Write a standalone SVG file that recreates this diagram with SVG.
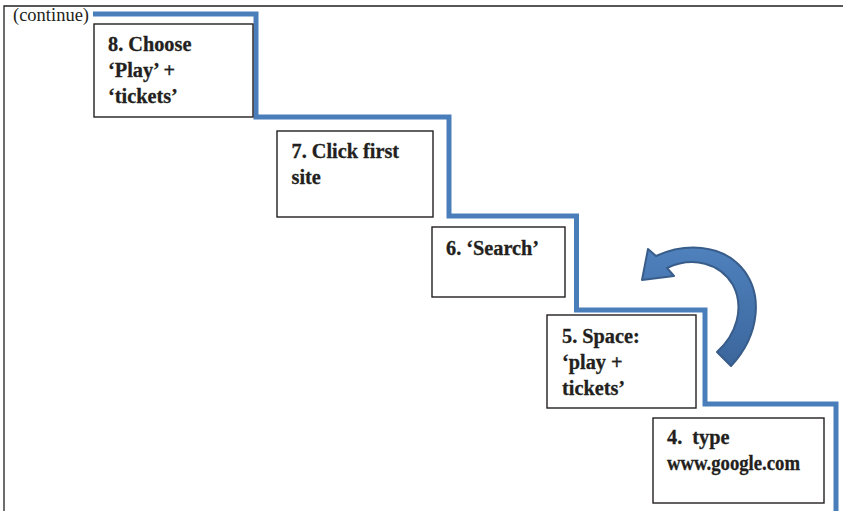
<svg xmlns="http://www.w3.org/2000/svg" width="843" height="511" viewBox="0 0 843 511">
<defs>
<style>
.box{fill:#fff;stroke:#231f20;stroke-width:1.4}
.lbl{font-family:"Liberation Serif","Times New Roman",serif;font-weight:bold;font-size:20.3px;fill:#231f20;stroke:#231f20;stroke-width:0.3;white-space:pre}
.cont{font-family:"Liberation Serif","Times New Roman",serif;font-size:18.5px;fill:#231f20}
.stair{fill:none;stroke:#4a7ebb;stroke-width:5;stroke-linejoin:miter}
.frame{fill:none;stroke:#231f20;stroke-width:1.3}
</style>
<linearGradient id="arrowFill" x1="0" y1="0" x2="0" y2="1">
<stop offset="0" stop-color="#4f81bd"/>
<stop offset="1" stop-color="#3b669c"/>
</linearGradient>
</defs>
<rect width="843" height="511" fill="#fff"/>
<g id="frame">
<path class="frame" d="M4,511 V6 H843"/>
</g>
<text class="cont" x="13" y="21">(continue)</text>
<g id="connectors">
<path class="stair" d="M93,14 H256 V117 H449 V216 H576.5 V310 H705 V404 H836 V511"/>
<path id="curved-arrow" d="M731,366 C760,335 764,293 741,267 C720,244 685,243 656,256 L648,249 L642,280 L674,276 L667,268 C693,256 720,263 733,285 C745,308 736,335 717,352 Z" fill="url(#arrowFill)" stroke="#385d8a" stroke-width="2" stroke-linejoin="round"/>
</g>
<g id="step8">
<rect class="box" x="94" y="24" width="159" height="93"/>
<text class="lbl" x="108" y="50.5">8. Choose</text>
<text class="lbl" x="108" y="77">‘Play’ +</text>
<text class="lbl" x="108" y="103">‘tickets’</text>
</g>
<g id="step7">
<rect class="box" x="277" y="131" width="156" height="86"/>
<text class="lbl" x="291.5" y="158">7. Click first</text>
<text class="lbl" x="291.5" y="184">site</text>
</g>
<g id="step6">
<rect class="box" x="432" y="227" width="133" height="70"/>
<text class="lbl" x="446" y="255">6. ‘Search’</text>
</g>
<g id="step5">
<rect class="box" x="547" y="315" width="149" height="93"/>
<text class="lbl" x="562" y="342.5">5. Space:</text>
<text class="lbl" x="562" y="368.5">‘play +</text>
<text class="lbl" x="562" y="394.5">tickets’</text>
</g>
<g id="step4">
<rect class="box" x="653" y="418" width="171" height="85"/>
<text class="lbl" x="667" y="444" xml:space="preserve">4.  type</text>
<text class="lbl" x="667" y="469.5" textLength="133" lengthAdjust="spacingAndGlyphs">www.google.com</text>
</g>
</svg>
